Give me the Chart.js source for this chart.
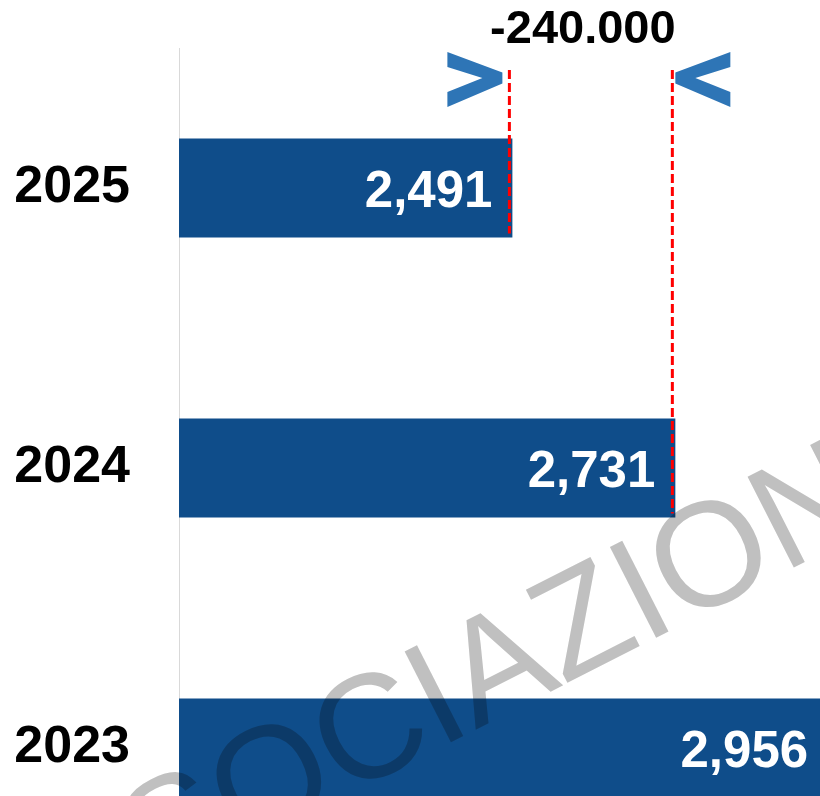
<!DOCTYPE html>
<html>
<head>
<meta charset="utf-8">
<script src="https://cdn.jsdelivr.net/npm/chart.js@4"></script>
<style>
  html, body { margin: 0; padding: 0; background: #fff; overflow: hidden; }
  #wrap { position: absolute; left: 0; top: 0; width: 858px; height: 888px; }
</style>
</head>
<body>
<div id="wrap"><canvas id="chart" width="858" height="888"></canvas></div>
<script>
const years = ['2025', '2024', '2023']
const values = [2491, 2731, 2956]
const deltaLabel = '-240.000'
const watermark = 'ASSOCIAZIONE'

const FONT = '"Liberation Sans", Arial, sans-serif'
const barColor = '#0F4D8A'
const arrowColor = '#2E75B6'

const fmt = v => v.toLocaleString('en-US')

// white numbers inside the bar ends
const valueLabels = {
  id: 'valueLabels',
  afterDatasetsDraw(chart) {
    const ctx = chart.ctx
    const meta = chart.getDatasetMeta(0)
    ctx.save()
    ctx.font = 'bold 51px ' + FONT
    ctx.fillStyle = '#fff'
    ctx.textAlign = 'right'
    ctx.textBaseline = 'alphabetic'
    meta.data.forEach((bar, i) => {
      ctx.fillText(fmt(values[i]), bar.x - 20, bar.y + 19)
    })
    ctx.restore()
  }
}

// red dashed markers, chevrons and the difference text between 2025 and 2024
const delta = {
  id: 'delta',
  afterDatasetsDraw(chart) {
    const ctx = chart.ctx
    const x = chart.scales.x
    const meta = chart.getDatasetMeta(0)
    const top = chart.chartArea.top
    const x1 = x.getPixelForValue(values[0]) - 3
    const x2 = x.getPixelForValue(values[1]) - 3
    const b1 = meta.data[0], b2 = meta.data[1]

    ctx.save()
    ctx.strokeStyle = '#FF0000'
    ctx.lineWidth = 3
    ctx.setLineDash([9, 4])
    ctx.beginPath()
    ctx.moveTo(x1, top + 22)
    ctx.lineTo(x1, b1.y + b1.height / 2 - 4)
    ctx.moveTo(x2, top + 22)
    ctx.lineTo(x2, b2.y + b2.height / 2 - 4)
    ctx.stroke()
    ctx.setLineDash([])

    // chevrons pointing at the lines
    const cy = top + 31.5
    const chevron = (tip, dir) => {
      const w = 55
      ctx.beginPath()
      ctx.moveTo(tip - dir * w, cy - 27.5)
      ctx.lineTo(tip, cy - 7)
      ctx.lineTo(tip, cy + 4)
      ctx.lineTo(tip - dir * w, cy + 27.5)
      ctx.lineTo(tip - dir * w, cy + 12.5)
      ctx.lineTo(tip - dir * 20, cy - 1.5)
      ctx.lineTo(tip - dir * w, cy - 12.5)
      ctx.closePath()
      ctx.fill()
    }
    ctx.fillStyle = arrowColor
    chevron(x1 - 7, 1)
    chevron(x2 + 3, -1)

    ctx.fillStyle = '#000'
    ctx.font = 'bold 47px ' + FONT
    ctx.textAlign = 'center'
    ctx.textBaseline = 'alphabetic'
    ctx.fillText(deltaLabel, (x1 + x2) / 2 - 8, top - 5)
    ctx.restore()
  }
}

// grey diagonal watermark, multiplied over everything
const watermarkPlugin = {
  id: 'watermark',
  afterDraw(chart) {
    const ctx = chart.ctx
    ctx.save()
    ctx.globalCompositeOperation = 'multiply'
    ctx.fillStyle = '#C0C0C0'
    ctx.font = '148px ' + FONT
    ctx.textBaseline = 'alphabetic'
    ctx.textAlign = 'left'
    const off = ctx.measureText('ASSOC').width + ctx.measureText('I').width / 2
    ctx.translate(433, 692)
    ctx.rotate(-27 * Math.PI / 180)
    ctx.fillText(watermark, -off, 53)
    ctx.restore()
  }
}

new Chart(document.getElementById('chart'), {
  type: 'bar',
  data: {
    labels: years,
    datasets: [{
      data: values,
      backgroundColor: barColor,
      borderWidth: 0,
      barPercentage: 0.354,
      categoryPercentage: 1
    }]
  },
  options: {
    indexAxis: 'y',
    responsive: false,
    animation: false,
    devicePixelRatio: 1,
    layout: { padding: { top: 48, right: 0, bottom: 0, left: 0 } },
    scales: {
      x: {
        type: 'linear',
        min: 2000,
        max: 3000,
        display: false
      },
      y: {
        grid: { display: false, drawTicks: false },
        border: { display: true, color: '#D9D9D9', width: 1 },
        ticks: {
          color: '#000',
          padding: 49,
          font: { family: FONT, size: 52, weight: 'bold' }
        },
        afterFit(scale) {
          scale.width = 179
          scale.paddingTop = 0
          scale.paddingBottom = 0
        }
      }
    },
    plugins: {
      legend: { display: false },
      tooltip: { enabled: false }
    }
  },
  plugins: [valueLabels, delta, watermarkPlugin]
})
</script>
</body>
</html>
